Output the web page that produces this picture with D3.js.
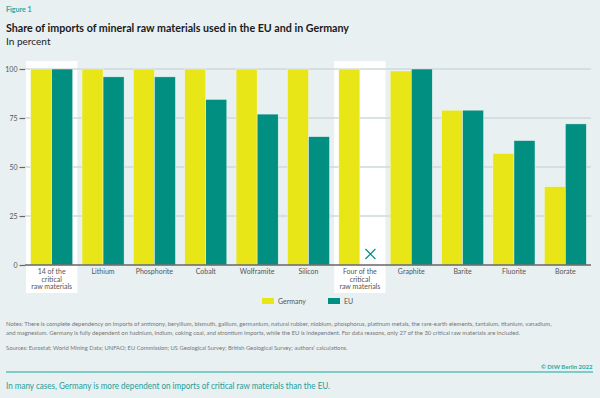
<!DOCTYPE html>
<html lang="en">
<head>
    <meta charset="UTF-8">
    <title>Share of imports of mineral raw materials</title>
    <script src="https://d3js.org/d3.v7.min.js"></script>
    <style>
        body { margin: 0; background: #e8f0f2; }
        svg { display: block; font-family: Lato, "Open Sans", sans-serif; }
    </style>
</head>
<body>
    <svg id="chart" width="600" height="398"></svg>
    <script>
    // data
    const categories = ["14 of the|critical|raw materials", "Lithium", "Phosphorite", "Cobalt", "Wolframite",
        "Silicon", "Four of the|critical|raw materials", "Graphite", "Barite", "Fluorite", "Borate"];
    const germany = [100, 100, 100, 100, 100, 100, 100, 99, 79, 57, 40];
    const eu = [100, 96, 96, 84.5, 77, 65.5, null, 100, 79, 63.5, 72];
    const highlighted = [0, 6];
    const series = ["Germany", "EU"];
    const yTicks = [0, 25, 50, 75, 100];

    const colors = { Germany: "#e8e616", EU: "#008f80" };
    const teal = "#2aa9a2";

    const svg = d3.select("#chart");
    svg.append("rect").attr("width", 600).attr("height", 398).attr("fill", "#e8f0f2");

    const x = d3.scaleBand()
        .domain(d3.range(categories.length))
        .range([26, 591])
        .paddingInner(0.18)
        .paddingOuter(0.09);
    const xInner = d3.scaleBand().domain(series).range([0, x.bandwidth()]);
    const y = d3.scaleLinear().domain([0, 100]).range([265, 69]);

    // white highlight columns
    svg.selectAll("rect.hl")
        .data(highlighted)
        .enter().append("rect")
        .attr("class", "hl")
        .attr("x", i => x(i) - x.step() * x.paddingInner() / 2)
        .attr("y", 61)
        .attr("width", x.step())
        .attr("height", 232)
        .attr("fill", "#ffffff");

    // gridlines
    svg.selectAll("line.grid")
        .data(yTicks.filter(d => d > 0))
        .enter().append("line")
        .attr("x1", 25).attr("x2", 591)
        .attr("y1", d => y(d)).attr("y2", d => y(d))
        .attr("stroke", "#cfd8db")
        .attr("stroke-width", 1.5);

    // bars
    const rows = [];
    categories.forEach((c, i) => {
        rows.push({ i: i, key: "Germany", value: germany[i] });
        rows.push({ i: i, key: "EU", value: eu[i] });
    });

    svg.selectAll("rect.bar")
        .data(rows.filter(d => d.value !== null))
        .enter().append("rect")
        .attr("class", "bar")
        .attr("x", d => x(d.i) + xInner(d.key))
        .attr("y", d => y(d.value))
        .attr("width", xInner.bandwidth())
        .attr("height", d => y(0) - y(d.value))
        .attr("fill", d => colors[d.key])
        .attr("stroke", "#f2f6f6")
        .attr("stroke-width", 0.5);

    // cross for missing value
    rows.filter(d => d.value === null).forEach(d => {
        const cx = x(d.i) + xInner(d.key) + xInner.bandwidth() / 2;
        const cy = y(0) - 11;
        svg.append("path")
            .attr("d", `M${cx - 5},${cy - 5}L${cx + 5},${cy + 5}M${cx + 5},${cy - 5}L${cx - 5},${cy + 5}`)
            .attr("stroke", colors.EU)
            .attr("stroke-width", 1.2)
            .attr("fill", "none");
    });

    // y axis
    const yAxis = svg.append("g")
        .attr("transform", "translate(25,0)")
        .call(d3.axisLeft(y).tickValues(yTicks).tickSize(5.5).tickPadding(2));
    yAxis.select(".domain").remove();
    yAxis.selectAll("line").attr("stroke", "#666").attr("stroke-width", 1.2);
    yAxis.selectAll("text").attr("fill", "#555").style("font-size", "7px").style("font-family", "Lato, sans-serif");

    // baseline
    svg.append("line")
        .attr("x1", 25).attr("x2", 591)
        .attr("y1", y(0)).attr("y2", y(0))
        .attr("stroke", "#666")
        .attr("stroke-width", 1.3);

    // category labels
    const labels = svg.selectAll("text.cat")
        .data(categories)
        .enter().append("text")
        .attr("class", "cat")
        .attr("x", (d, i) => x(i) + x.bandwidth() / 2)
        .attr("y", 274)
        .attr("text-anchor", "middle")
        .attr("fill", "#555")
        .style("font-size", "7px");
    labels.each(function(d) {
        const t = d3.select(this);
        d.split("|").forEach((line, k) => {
            t.append("tspan")
                .attr("x", t.attr("x"))
                .attr("dy", k === 0 ? 0 : 7.5)
                .text(line);
        });
    });

    // legend
    const legendPos = [262, 328];
    series.forEach((s, k) => {
        svg.append("rect")
            .attr("x", legendPos[k]).attr("y", 298)
            .attr("width", 12).attr("height", 6)
            .attr("fill", colors[s]);
        svg.append("text")
            .attr("x", legendPos[k] + 16).attr("y", 303.5)
            .attr("fill", "#555")
            .style("font-size", "7px")
            .text(s);
    });

    // titles
    svg.append("text")
        .attr("x", 6).attr("y", 11.5)
        .attr("fill", teal)
        .attr("textLength", 25.5).attr("lengthAdjust", "spacingAndGlyphs")
        .style("font-size", "7px").style("font-weight", "bold")
        .text("Figure 1");
    svg.append("text")
        .attr("x", 6).attr("y", 31.5)
        .attr("fill", "#1a1a1a")
        .attr("textLength", 343).attr("lengthAdjust", "spacingAndGlyphs")
        .style("font-size", "11.5px").style("font-weight", "bold")
        .text("Share of imports of mineral raw materials used in the EU and in Germany");
    svg.append("text")
        .attr("x", 6).attr("y", 44.5)
        .attr("fill", "#222")
        .attr("textLength", 44.5).attr("lengthAdjust", "spacingAndGlyphs")
        .style("font-size", "10px")
        .text("In percent");

    // notes
    const notes = [
        { text: "Notes: There is complete dependency on imports of antimony, beryllium, bismuth, gallium, germanium, natural rubber, niobium, phosphorus, platinum metals, the rare-earth elements, tantalum, titanium, vanadium,", y: 325.5, w: 545.5 },
        { text: "and magnesium. Germany is fully dependent on hadnium, indium, coking coal, and strontium imports, while the EU is independent. For data reasons, only 27 of the 30 critical raw materials are included.", y: 334.5, w: 514 },
        { text: "Sources: Eurostat; World Mining Data; UNFAO; EU Commission; US Geological Survey; British Geological Survey; authors\u2019 calculations.", y: 349.5, w: 341.5 }
    ];
    svg.selectAll("text.note")
        .data(notes)
        .enter().append("text")
        .attr("class", "note")
        .attr("x", 6).attr("y", d => d.y)
        .attr("textLength", d => d.w).attr("lengthAdjust", "spacingAndGlyphs")
        .attr("fill", "#777")
        .style("font-size", "6.5px")
        .text(d => d.text);

    svg.append("text")
        .attr("x", 592.5).attr("y", 369)
        .attr("text-anchor", "end")
        .attr("fill", teal)
        .style("font-size", "6px").style("font-weight", "bold")
        .text("\u00a9 DIW Berlin 2022");

    svg.append("line")
        .attr("x1", 6).attr("x2", 593)
        .attr("y1", 372).attr("y2", 372)
        .attr("stroke", "#7fcbc6")
        .attr("stroke-width", 2);

    svg.append("text")
        .attr("x", 6).attr("y", 388.5)
        .attr("fill", "#1f9e97")
        .attr("textLength", 324).attr("lengthAdjust", "spacingAndGlyphs")
        .style("font-size", "9px")
        .text("In many cases, Germany is more dependent on imports of critical raw materials than the EU.");
    </script>
</body>
</html>
